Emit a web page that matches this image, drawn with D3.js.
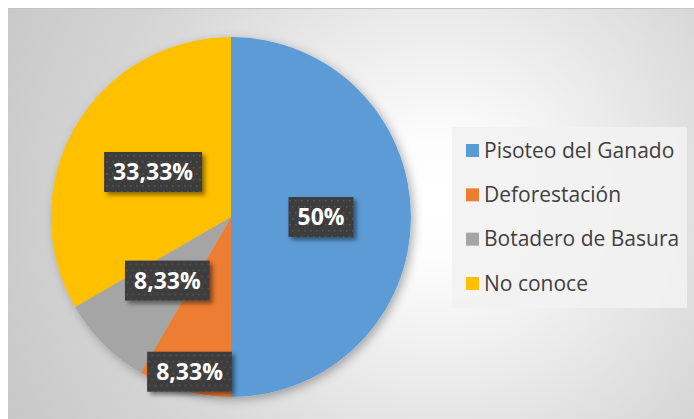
<!DOCTYPE html>
<html>
<head>
<meta charset="utf-8">
<style>
body { margin: 0; background: #fff; }
.legend text { font: 21px "Open Sans", sans-serif; fill: #404040; }
.lbl text { font: bold 23px "Open Sans", sans-serif; fill: #fff; text-anchor: middle; }
</style>
</head>
<body>
<svg width="694" height="419"></svg>
<script src="https://cdn.jsdelivr.net/npm/d3@7"></script>
<script>
var categories = ["Pisoteo del Ganado", "Deforestación", "Botadero de Basura", "No conoce"];
var values = [50, 8.33, 8.33, 33.33];
var labels = ["50%", "8,33%", "8,33%", "33,33%"];
var colors = ["#5B9BD5", "#ED7D31", "#A5A5A5", "#FFC000"];

// where excel put each label, as a fraction of the radius
var labelPos = [0.5, 0.89, 0.5, 0.5];

var svg = d3.select("svg"),
    width = 694,
    height = 419,
    cx = 231, cy = 217, r = 180;

var defs = svg.append("defs");

var bg = defs.append("radialGradient")
    .attr("id", "bg")
    .attr("gradientUnits", "userSpaceOnUse")
    .attr("cx", 440).attr("cy", 200).attr("r", 480);
bg.append("stop").attr("offset", 0).attr("stop-color", "#ffffff");
bg.append("stop").attr("offset", 0.12).attr("stop-color", "#fdfdfd");
bg.append("stop").attr("offset", 0.7).attr("stop-color", "#d5d5d5");
bg.append("stop").attr("offset", 1).attr("stop-color", "#c8c8c8");

var pat = defs.append("pattern")
    .attr("id", "dots")
    .attr("patternUnits", "userSpaceOnUse")
    .attr("width", 6).attr("height", 12);
pat.append("rect").attr("width", 6).attr("height", 12).attr("fill", "#3d3d3d");
pat.append("rect").attr("x", 1).attr("y", 1).attr("width", 1.5).attr("height", 1.5).attr("fill", "#5a5a5a");
pat.append("rect").attr("x", 4).attr("y", 7).attr("width", 1.5).attr("height", 1.5).attr("fill", "#5a5a5a");

defs.append("filter").attr("id", "pieShadow")
    .attr("x", "-20%").attr("y", "-20%").attr("width", "140%").attr("height", "140%")
  .append("feDropShadow")
    .attr("dx", 3).attr("dy", 3).attr("stdDeviation", 5)
    .attr("flood-color", "#000").attr("flood-opacity", 0.3);

defs.append("filter").attr("id", "boxShadow")
    .attr("x", "-20%").attr("y", "-30%").attr("width", "150%").attr("height", "170%")
  .append("feDropShadow")
    .attr("dx", 3).attr("dy", 3).attr("stdDeviation", 2)
    .attr("flood-color", "#000").attr("flood-opacity", 0.45);

// chart area
svg.append("rect")
    .attr("x", 8).attr("y", 8)
    .attr("width", width - 8).attr("height", height - 8)
    .attr("fill", "url(#bg)");
svg.append("line")
    .attr("x1", 8).attr("x2", width)
    .attr("y1", 8.5).attr("y2", 8.5)
    .attr("stroke", "#c4c4c4");

var pie = d3.pie().sort(null)(values);
var arc = d3.arc().innerRadius(0).outerRadius(r);

var g = svg.append("g")
    .attr("transform", "translate(" + cx + "," + cy + ")");

g.append("g")
    .attr("filter", "url(#pieShadow)")
  .selectAll("path")
  .data(pie)
  .enter().append("path")
    .attr("d", arc)
    .attr("fill", function(d, i) { return colors[i]; });

var lbl = g.append("g").attr("class", "lbl")
  .selectAll("g")
  .data(pie)
  .enter().append("g")
    .attr("transform", function(d, i) {
      var a = (d.startAngle + d.endAngle) / 2,
          rr = r * labelPos[i];
      return "translate(" + (Math.sin(a) * rr) + "," + (-Math.cos(a) * rr) + ")";
    });

lbl.append("text")
    .attr("dy", "0.35em")
    .text(function(d, i) { return labels[i]; })
    .each(function() {
      var w = this.getComputedTextLength();
      d3.select(this.parentNode).insert("rect", "text")
          .attr("x", -w / 2 - 9).attr("y", -20)
          .attr("width", w + 18).attr("height", 40)
          .attr("fill", "url(#dots)")
          .attr("filter", "url(#boxShadow)");
    });

// legend
var legend = svg.append("g").attr("class", "legend")
    .attr("transform", "translate(452,127)");
legend.append("rect")
    .attr("width", 235).attr("height", 181)
    .attr("fill", "#f2f2f2").attr("fill-opacity", 0.9);

var ly = d3.scalePoint().domain(categories).range([23, 156]);

var item = legend.selectAll("g.item")
    .data(categories)
  .enter().append("g")
    .attr("class", "item")
    .attr("transform", function(d) { return "translate(14," + ly(d) + ")"; });
item.append("rect")
    .attr("x", 0).attr("y", -6)
    .attr("width", 13).attr("height", 13)
    .attr("fill", function(d, i) { return colors[i]; });
item.append("text")
    .attr("x", 18).attr("dy", "0.36em")
    .text(function(d) { return d; });
</script>
</body>
</html>
